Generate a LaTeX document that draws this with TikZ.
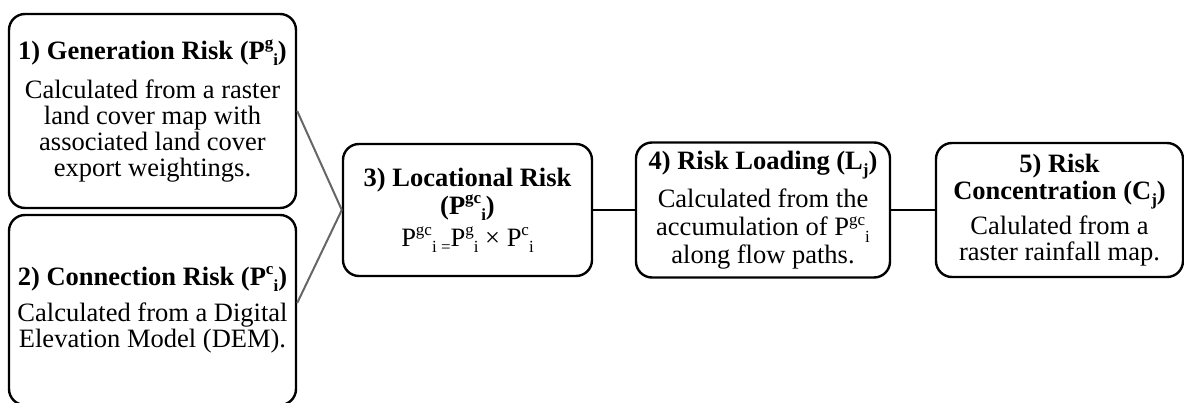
\documentclass[tikz,border=0pt]{standalone}
\usepackage{fontspec}
\setmainfont{Liberation Serif}
\newcommand\myup[1]{\raisebox{0.40em}{\fontsize{17}{17}\selectfont #1}}
\newcommand\mydn[1]{\raisebox{-0.24em}{\fontsize{17}{17}\selectfont #1}}
\tikzset{
  box/.style={draw, line width=2.4pt, rounded corners=16pt, align=center, inner sep=0pt,
    font=\fontsize{26.5}{26}\selectfont},
  link/.style={line width=2pt},
  glink/.style={line width=2pt, draw=gray!80!black},
}
\begin{document}
\begin{tikzpicture}[x=1pt,y=-1pt]
\useasboundingbox (0,0) rectangle (1184,403);
\begin{scope}
\clip (0,0) rectangle (1184,403);
\node[box, minimum width=287pt, minimum height=194pt] (b1) at (152.5,111)
  {\textbf{1) Generation Risk (P\myup{g}\mydn{i})}\\[13pt]
   Calculated from a raster\\ land cover map with\\ associated land cover\\ export weightings.};
\node[box, minimum width=287pt, minimum height=190pt] (b2) at (152.5,310)
  {\textbf{2) Connection Risk (P\myup{c}\mydn{i})}\\[10pt]
   Calculated from a Digital\\ Elevation Model (DEM).};
\node[box, minimum width=249pt, minimum height=132pt] (b3) at (467.5,210)
  {\textbf{3) Locational Risk}\\[2pt] \textbf{(P\myup{gc}\mydn{i})}\\[6pt]
   P\myup{gc}\mydn{i =}P\myup{g}\mydn{i} × P\myup{c}\mydn{i}};
\node[box, minimum width=254pt, minimum height=135pt] (b4) at (763,210)
  {\textbf{4) Risk Loading (L\mydn{j})}\\[9pt]
   Calculated from the\\[2pt] accumulation of P\myup{gc}\mydn{i}\\[2pt] along flow paths.};
\node[box, minimum width=247pt, minimum height=134pt] (b5) at (1059.5,210)
  {\textbf{5) Risk}\\[1pt] \textbf{Concentration (C\mydn{j})}\\[6pt]
   Calulated from a\\ raster rainfall map.};
\coordinate (m) at (b3.west);
\draw[glink] (b1.east) -- (m);
\draw[glink] ([yshift=7pt]b2.east) -- (m);
\draw[link] (b3.east) -- (b4.west);
\draw[link] (b4.east) -- (b5.west);
\end{scope}
\end{tikzpicture}
\end{document}
